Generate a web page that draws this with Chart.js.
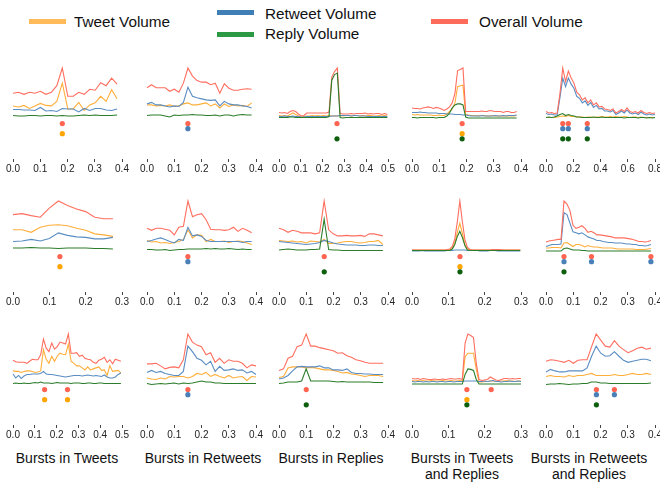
<!DOCTYPE html>
<html>
<head>
<meta charset="utf-8">
<script src="https://cdn.jsdelivr.net/npm/chart.js@4/dist/chart.umd.min.js"></script>
<style>
  body { margin: 0; background: #fff; font-family: "Liberation Sans", Arial, sans-serif; }
  #wrap { position: relative; width: 660px; height: 483px; overflow: hidden; }
  #wrap canvas { position: absolute; }
  .bar { position: absolute; height: 5px; width: 37px; }
  .lg { position: absolute; font-size: 15.3px; line-height: 16px; color: #111; white-space: nowrap; }
  .cap { position: absolute; width: 170px; font-size: 14px; line-height: 16px; text-align: center; color: #111; }
</style>
</head>
<body>
<div id="wrap">
  <div class="bar" style="left:29px;top:18.5px;background:#ffbb5a"></div>
  <div class="lg" style="left:74px;top:14px">Tweet Volume</div>
  <div class="bar" style="left:217px;top:10px;background:#3f7fb6"></div>
  <div class="lg" style="left:265px;top:6px">Retweet Volume</div>
  <div class="bar" style="left:217px;top:31.5px;background:#2c9a45"></div>
  <div class="lg" style="left:265px;top:25.5px">Reply Volume</div>
  <div class="bar" style="left:431px;top:18.5px;background:#ff6b5b"></div>
  <div class="lg" style="left:479px;top:14px">Overall Volume</div>

  <div class="cap" style="left:-18px;top:450px">Bursts in Tweets</div>
  <div class="cap" style="left:118px;top:450px">Bursts in Retweets</div>
  <div class="cap" style="left:246px;top:450px">Bursts in Replies</div>
  <div class="cap" style="left:377px;top:450px">Bursts in Tweets<br>and Replies</div>
  <div class="cap" style="left:504px;top:450px">Bursts in Retweets<br>and Replies</div>
</div>
<script>
// ---- data (volumes normalised so each panel's overall peak = 1) ----
// row 1
const tweet11 = [0.25,0.23,0.26,0.20,0.25,0.30,0.26,0.25,0.34,0.70,0.19,0.19,0.32,0.16,0.27,0.31,0.44,0.34,0.57,0.39];
const retweet11 = [0.18,0.18,0.17,0.17,0.16,0.22,0.15,0.16,0.14,0.20,0.19,0.19,0.13,0.20,0.16,0.20,0.20,0.17,0.16,0.19];
const reply11 = [0.06,0.05,0.05,0.06,0.06,0.05,0.06,0.06,0.05,0.06,0.05,0.05,0.06,0.07,0.06,0.07,0.06,0.06,0.06,0.07];
const overall11 = [0.50,0.52,0.48,0.52,0.50,0.54,0.48,0.52,0.65,1.00,0.44,0.44,0.52,0.48,0.58,0.56,0.71,0.65,0.80,0.68];

const tweet12 = [0.27,0.27,0.25,0.26,0.25,0.27,0.24,0.25,0.29,0.31,0.27,0.27,0.29,0.31,0.25,0.29,0.21,0.29,0.24,0.27,0.25,0.26,0.24,0.31];
const retweet12 = [0.29,0.32,0.27,0.27,0.25,0.23,0.25,0.24,0.32,0.62,0.44,0.41,0.39,0.37,0.36,0.37,0.25,0.34,0.29,0.27,0.27,0.25,0.24,0.21];
const reply12 = [0.06,0.07,0.07,0.07,0.05,0.03,0.07,0.06,0.07,0.07,0.08,0.07,0.07,0.06,0.06,0.07,0.05,0.07,0.07,0.05,0.07,0.08,0.07,0.07];
const overall12 = [0.61,0.67,0.61,0.61,0.61,0.54,0.58,0.52,0.70,1.00,0.84,0.75,0.72,0.72,0.67,0.70,0.50,0.69,0.60,0.56,0.56,0.58,0.59,0.58];

const tweet13 = [0.06,0.05,0.06,0.05,0.08,0.11,0.08,0.05,0.03,0.04,0.05,0.05,0.06,0.05,0.06,0.05,0.06,0.05,0.06,0.05,
  0.05,0.05,0.06,0.05,0.06,0.06,0.05,0.06,0.06,0.05,0.06,0.05,0.06,0.06,0.05,0.05,0.06,0.05,0.06,0.05];
const retweet13 = [0.04,0.04,0.05,0.04,0.04,0.05,0.04,0.04,0.03,0.03,0.04,0.04,0.04,0.04,0.04,0.04,0.04,0.04,0.04,0.05,
  0.05,0.05,0.06,0.06,0.06,0.06,0.05,0.06,0.06,0.05,0.05,0.05,0.04,0.04,0.04,0.04,0.04,0.04,0.04,0.04];
const reply13 = [0.02,0.02,0.02,0.02,0.03,0.03,0.02,0.02,0.02,0.02,0.02,0.02,0.02,0.02,0.02,0.02,0.02,0.02,0.04,0.76,
  0.87,0.90,0.02,0.01,0.02,0.02,0.02,0.02,0.02,0.02,0.02,0.02,0.02,0.02,0.02,0.02,0.02,0.02,0.02,0.02];
const overall13 = [0.12,0.11,0.12,0.10,0.14,0.16,0.14,0.09,0.05,0.06,0.11,0.11,0.11,0.11,0.11,0.11,0.11,0.11,0.13,0.82,
  0.93,1.00,0.10,0.09,0.09,0.09,0.10,0.09,0.10,0.10,0.10,0.11,0.09,0.10,0.09,0.10,0.10,0.08,0.10,0.08];

const tweet14 = [0.08,0.07,0.08,0.07,0.07,0.07,0.07,0.07,0.06,0.06,0.07,0.06,0.06,0.09,0.14,0.19,0.31,0.63,0.65,0.66,
  0.08,0.07,0.06,0.06,0.06,0.05,0.06,0.06,0.05,0.05,0.06,0.05,0.05,0.05,0.05,0.05,0.05,0.05,0.05,0.06];
const retweet14 = [0.12,0.12,0.12,0.13,0.12,0.12,0.11,0.11,0.11,0.11,0.10,0.10,0.10,0.09,0.09,0.09,0.08,0.08,0.08,0.07,
  0.07,0.06,0.05,0.05,0.05,0.05,0.06,0.05,0.05,0.05,0.05,0.06,0.05,0.05,0.06,0.05,0.06,0.06,0.06,0.07];
const reply14 = [0.02,0.02,0.01,0.02,0.02,0.02,0.02,0.02,0.02,0.01,0.02,0.02,0.02,0.05,0.11,0.21,0.27,0.29,0.29,0.27,
  0.03,0.01,0.01,0.01,0.01,0.01,0.01,0.01,0.01,0.01,0.01,0.01,0.01,0.01,0.01,0.01,0.01,0.01,0.01,0.01];
const overall14 = [0.21,0.20,0.20,0.19,0.21,0.22,0.23,0.22,0.20,0.22,0.21,0.19,0.16,0.19,0.23,0.31,0.50,0.95,0.97,1.00,
  0.14,0.14,0.14,0.14,0.14,0.14,0.15,0.14,0.14,0.16,0.15,0.14,0.14,0.14,0.12,0.14,0.14,0.12,0.12,0.14];

const tweet15 = [0.02,0.02,0.02,0.02,0.03,0.04,0.05,0.04,0.06,0.04,0.04,0.03,0.03,0.03,0.02,0.03,0.03,0.02,0.03,0.03,
  0.04,0.03,0.03,0.04,0.03,0.04,0.03,0.03,0.04,0.03,0.02,0.03,0.03,0.02,0.03,0.02,0.02,0.02,0.02,0.02];
const retweet15 = [0.10,0.08,0.09,0.07,0.07,0.42,0.80,0.63,0.80,0.68,0.60,0.44,0.40,0.31,0.35,0.26,0.32,0.22,0.26,0.19,
  0.20,0.15,0.15,0.13,0.16,0.08,0.11,0.15,0.11,0.17,0.11,0.09,0.11,0.08,0.13,0.09,0.07,0.09,0.07,0.08];
const reply15 = [0.02,0.03,0.02,0.03,0.05,0.08,0.10,0.06,0.08,0.06,0.05,0.03,0.03,0.02,0.02,0.02,0.02,0.03,0.02,0.02,
  0.03,0.02,0.02,0.02,0.02,0.02,0.02,0.02,0.01,0.02,0.02,0.02,0.02,0.01,0.02,0.02,0.01,0.02,0.01,0.02];
const overall15 = [0.14,0.11,0.12,0.10,0.11,0.50,1.00,0.73,0.94,0.80,0.70,0.52,0.47,0.37,0.41,0.31,0.37,0.27,0.31,0.23,
  0.24,0.19,0.18,0.16,0.19,0.11,0.14,0.18,0.14,0.21,0.14,0.12,0.14,0.11,0.16,0.12,0.10,0.12,0.10,0.11];

// row 2
const tweet21 = [0.43,0.43,0.38,0.48,0.52,0.53,0.51,0.46,0.42,0.35,0.33,0.30];
const retweet21 = [0.20,0.21,0.24,0.21,0.26,0.37,0.32,0.29,0.28,0.25,0.25,0.28];
const reply21 = [0.07,0.07,0.08,0.07,0.07,0.06,0.07,0.07,0.07,0.06,0.06,0.05];
const overall21 = [0.73,0.75,0.71,0.68,0.86,1.00,0.91,0.84,0.79,0.68,0.65,0.65];

const tweet22 = [0.22,0.19,0.20,0.17,0.18,0.16,0.18,0.20,0.24,0.43,0.27,0.33,0.32,0.20,0.24,0.20,0.20,0.21,0.18,0.20,0.21,0.20,0.17,0.14];
const retweet22 = [0.20,0.22,0.25,0.27,0.24,0.20,0.17,0.24,0.22,0.48,0.31,0.33,0.30,0.22,0.20,0.20,0.20,0.20,0.20,0.20,0.20,0.18,0.20,0.20];
const reply22 = [0.04,0.04,0.03,0.03,0.04,0.02,0.03,0.04,0.04,0.05,0.05,0.05,0.05,0.06,0.05,0.06,0.05,0.05,0.06,0.05,0.04,0.05,0.04,0.04];
const overall22 = [0.46,0.42,0.46,0.46,0.44,0.42,0.33,0.48,0.50,1.00,0.69,0.73,0.75,0.63,0.44,0.43,0.43,0.42,0.43,0.48,0.40,0.46,0.42,0.37];

const tweet23 = [0.22,0.21,0.20,0.21,0.19,0.20,0.17,0.21,0.20,0.19,0.24,0.16,0.16,0.17,0.19,0.20,0.20,0.18,0.17,0.18,0.20,0.20,0.22,0.14];
const retweet23 = [0.20,0.19,0.18,0.17,0.16,0.15,0.14,0.15,0.16,0.18,0.22,0.20,0.17,0.15,0.14,0.13,0.13,0.13,0.12,0.12,0.13,0.13,0.12,0.12];
const reply23 = [0.03,0.04,0.05,0.04,0.03,0.03,0.03,0.04,0.04,0.05,0.64,0.04,0.03,0.03,0.02,0.02,0.02,0.02,0.02,0.02,0.02,0.02,0.02,0.02];
const overall23 = [0.46,0.43,0.38,0.42,0.40,0.37,0.37,0.37,0.35,0.37,1.00,0.43,0.35,0.31,0.31,0.32,0.31,0.31,0.32,0.30,0.35,0.35,0.33,0.31];

const tweet24 = [0.03,0.03,0.03,0.03,0.03,0.03,0.03,0.03,0.03,0.03,0.03,0.03,0.03,0.03,0.03,0.04,0.06,0.16,0.38,0.56,0.36,0.14,
  0.05,0.03,0.03,0.03,0.03,0.03,0.03,0.03,0.03,0.03,0.04,0.04,0.03,0.03,0.03,0.03,0.03,0.03,0.03,0.03,0.03,0.03];
const retweet24 = [0.01,0.01,0.01,0.01,0.02,0.01,0.01,0.01,0.01,0.01,0.01,0.01,0.01,0.01,0.02,0.02,0.02,0.03,0.03,0.03,0.03,0.03,
  0.02,0.02,0.02,0.02,0.02,0.01,0.01,0.01,0.01,0.02,0.02,0.02,0.01,0.01,0.01,0.01,0.01,0.01,0.01,0.01,0.01,0.01];
const reply24 = [0.02,0.02,0.02,0.02,0.02,0.02,0.02,0.02,0.02,0.02,0.02,0.02,0.02,0.02,0.02,0.02,0.05,0.14,0.30,0.40,0.28,0.12,
  0.03,0.02,0.02,0.02,0.02,0.02,0.02,0.02,0.02,0.02,0.02,0.02,0.02,0.02,0.02,0.02,0.02,0.02,0.02,0.02,0.02,0.02];
const overall24 = [0.03,0.03,0.03,0.03,0.03,0.03,0.03,0.03,0.03,0.03,0.03,0.03,0.03,0.03,0.04,0.05,0.10,0.25,0.59,1.00,0.59,0.24,
  0.08,0.04,0.03,0.03,0.03,0.03,0.03,0.03,0.03,0.03,0.04,0.04,0.04,0.04,0.03,0.03,0.03,0.03,0.03,0.03,0.03,0.03];

const tweet25 = [0.07,0.07,0.08,0.08,0.08,0.07,0.17,0.18,0.14,0.10,0.14,0.14,0.12,0.09,0.12,0.10,0.09,0.09,
  0.08,0.07,0.07,0.07,0.07,0.06,0.05,0.05,0.05,0.05,0.05,0.05,0.04,0.04,0.04,0.04,0.05,0.06];
const retweet25 = [0.10,0.12,0.14,0.14,0.14,0.15,0.77,0.73,0.56,0.39,0.37,0.35,0.37,0.33,0.29,0.27,0.25,0.22,
  0.22,0.20,0.19,0.18,0.18,0.17,0.17,0.17,0.16,0.15,0.15,0.14,0.14,0.12,0.12,0.11,0.12,0.14];
const reply25 = [0.01,0.01,0.01,0.01,0.01,0.01,0.06,0.07,0.05,0.03,0.03,0.03,0.02,0.02,0.01,0.01,0.01,0.01,
  0.01,0.01,0.01,0.01,0.01,0.01,0.01,0.01,0.01,0.01,0.01,0.01,0.01,0.01,0.01,0.01,0.01,0.01];
const overall25 = [0.19,0.21,0.22,0.23,0.24,0.24,1.00,0.94,0.81,0.52,0.46,0.48,0.51,0.46,0.38,0.40,0.37,0.33,
  0.33,0.32,0.31,0.30,0.29,0.27,0.27,0.27,0.27,0.26,0.25,0.24,0.22,0.20,0.20,0.19,0.20,0.22];

// row 3
const tweet31 = [0.27,0.26,0.26,0.24,0.26,0.27,0.27,0.26,0.24,0.25,0.27,0.69,0.50,0.42,0.56,0.46,0.56,0.62,0.60,0.59,
  0.80,0.46,0.42,0.37,0.37,0.33,0.29,0.35,0.29,0.31,0.33,0.35,0.28,0.29,0.18,0.37,0.26,0.27,0.28,0.23];
const retweet31 = [0.21,0.13,0.18,0.12,0.17,0.20,0.20,0.21,0.21,0.21,0.22,0.26,0.21,0.20,0.20,0.19,0.18,0.17,0.16,0.15,
  0.16,0.17,0.18,0.18,0.18,0.17,0.18,0.19,0.18,0.17,0.18,0.17,0.16,0.19,0.15,0.13,0.13,0.15,0.20,0.23];
const reply31 = [0.02,0.03,0.02,0.02,0.03,0.02,0.02,0.03,0.04,0.03,0.05,0.03,0.03,0.03,0.02,0.03,0.04,0.03,0.03,0.03,
  0.03,0.02,0.03,0.03,0.03,0.02,0.02,0.03,0.03,0.02,0.02,0.03,0.03,0.02,0.02,0.02,0.02,0.02,0.02,0.02];
const overall31 = [0.48,0.45,0.44,0.44,0.44,0.42,0.46,0.50,0.49,0.49,0.59,0.90,0.72,0.65,0.82,0.70,0.75,0.84,0.82,0.80,
  1.00,0.62,0.62,0.63,0.56,0.58,0.52,0.50,0.49,0.44,0.42,0.48,0.50,0.54,0.44,0.49,0.41,0.50,0.48,0.46];

const tweet32 = [0.13,0.11,0.10,0.13,0.11,0.16,0.15,0.16,0.16,0.13,0.16,0.22,0.20,0.24,0.16,0.20,0.16,0.13,0.18,0.13,0.15,0.16,0.08,0.16,0.15];
const retweet32 = [0.24,0.28,0.24,0.26,0.22,0.20,0.18,0.18,0.26,0.76,0.65,0.52,0.48,0.39,0.46,0.26,0.36,0.28,0.29,0.31,0.28,0.29,0.23,0.26,0.20];
const reply32 = [0.02,0.00,0.01,0.02,0.01,0.02,0.03,0.01,0.03,0.02,0.03,0.05,0.07,0.05,0.05,0.03,0.03,0.02,0.02,0.02,0.02,0.02,0.02,0.02,0.02];
const overall32 = [0.41,0.41,0.42,0.37,0.31,0.34,0.35,0.33,0.49,1.00,0.84,0.78,0.75,0.59,0.63,0.44,0.52,0.42,0.49,0.46,0.46,0.42,0.33,0.39,0.37];

const tweet33 = [0.14,0.16,0.33,0.35,0.35,0.35,0.33,0.34,0.33,0.31,0.29,0.29,0.28,0.26,0.23,0.24,0.21,0.20,0.18,0.16,0.18,0.18,0.18,0.16];
const retweet33 = [0.11,0.13,0.18,0.27,0.35,0.36,0.35,0.35,0.35,0.37,0.33,0.33,0.29,0.29,0.28,0.31,0.24,0.22,0.22,0.21,0.21,0.20,0.20,0.20];
const reply33 = [0.02,0.03,0.05,0.05,0.05,0.07,0.31,0.07,0.07,0.07,0.07,0.07,0.06,0.05,0.06,0.05,0.05,0.05,0.05,0.05,0.05,0.04,0.04,0.04];
const overall33 = [0.28,0.31,0.52,0.56,0.75,0.78,1.00,0.76,0.76,0.73,0.71,0.69,0.67,0.62,0.63,0.57,0.54,0.49,0.47,0.44,0.42,0.42,0.42,0.42];

const tweet34 = [0.08,0.07,0.08,0.07,0.08,0.07,0.07,0.08,0.07,0.07,0.07,0.08,0.07,0.07,0.08,0.07,0.07,0.08,0.07,0.55,
  0.62,0.62,0.62,0.30,0.05,0.05,0.06,0.06,0.07,0.07,0.06,0.06,0.07,0.07,0.08,0.07,0.07,0.06,0.07,0.07];
const retweet34 = [0.06,0.05,0.06,0.06,0.05,0.06,0.05,0.06,0.06,0.05,0.06,0.06,0.05,0.06,0.06,0.05,0.06,0.06,0.06,0.07,
  0.07,0.07,0.07,0.07,0.06,0.06,0.07,0.06,0.07,0.08,0.06,0.06,0.05,0.06,0.06,0.07,0.06,0.06,0.07,0.06];
const reply34 = [0.01,0.01,0.01,0.01,0.01,0.01,0.01,0.01,0.01,0.01,0.01,0.01,0.01,0.01,0.01,0.01,0.01,0.01,0.01,0.20,
  0.31,0.30,0.28,0.10,0.01,0.01,0.01,0.01,0.01,0.01,0.01,0.01,0.01,0.01,0.01,0.01,0.01,0.01,0.01,0.01];
const overall34 = [0.12,0.11,0.12,0.10,0.12,0.11,0.10,0.10,0.11,0.10,0.10,0.11,0.10,0.11,0.12,0.11,0.11,0.12,0.10,0.82,
  1.00,0.97,0.93,0.42,0.10,0.08,0.09,0.10,0.15,0.12,0.09,0.08,0.10,0.12,0.12,0.11,0.12,0.11,0.12,0.12];

const tweet35 = [0.16,0.18,0.16,0.16,0.15,0.18,0.16,0.18,0.18,0.20,0.22,0.18,0.18,0.18,0.18,0.20,0.18,0.18,0.20,0.22,0.20,0.20,0.22,0.20];
const retweet35 = [0.25,0.30,0.27,0.25,0.25,0.27,0.27,0.27,0.27,0.33,0.56,0.76,0.62,0.56,0.57,0.65,0.56,0.48,0.44,0.46,0.48,0.50,0.50,0.47];
const reply35 = [0.00,0.01,0.01,0.02,0.01,0.00,0.01,0.01,0.02,0.02,0.05,0.05,0.03,0.03,0.02,0.02,0.02,0.02,0.02,0.02,0.02,0.02,0.02,0.03];
const overall35 = [0.46,0.49,0.48,0.46,0.44,0.48,0.42,0.48,0.49,0.49,0.75,1.00,0.88,0.76,0.74,0.87,0.76,0.69,0.63,0.67,0.72,0.74,0.70,0.72];

// time span covered by each panel's series, and axis end / tick step
const spanEnd = [[0.382, 0.384, 0.497, 0.384, 0.800],
                 [0.275, 0.384, 0.381, 0.298, 0.385],
                 [0.495, 0.400, 0.382, 0.300, 0.385]];
const axisMax = [[0.4, 0.4, 0.5, 0.4, 0.8],
                 [0.3, 0.4, 0.4, 0.3, 0.4],
                 [0.5, 0.4, 0.4, 0.3, 0.4]];
const tickStep = [[0.1, 0.1, 0.1, 0.1, 0.2],
                  [0.1, 0.1, 0.1, 0.1, 0.1],
                  [0.1, 0.1, 0.1, 0.1, 0.1]];

// detected bursts: [series, time]
const bursts11 = [['overall', 0.181], ['tweet', 0.181]];
const bursts12 = [['overall', 0.150], ['retweet', 0.150]];
const bursts13 = [['overall', 0.266], ['reply', 0.266]];
const bursts14 = [['overall', 0.184], ['tweet', 0.184], ['reply', 0.184]];
const bursts15 = [['overall', 0.123], ['retweet', 0.123], ['reply', 0.123],
                  ['overall', 0.164], ['retweet', 0.164], ['reply', 0.164],
                  ['overall', 0.303], ['retweet', 0.303], ['reply', 0.303]];
const bursts21 = [['overall', 0.129], ['tweet', 0.129]];
const bursts22 = [['overall', 0.150], ['retweet', 0.150]];
const bursts23 = [['overall', 0.166], ['reply', 0.166]];
const bursts24 = [['overall', 0.132], ['tweet', 0.132], ['reply', 0.132]];
const bursts25 = [['overall', 0.066], ['retweet', 0.066], ['reply', 0.066],
                  ['overall', 0.167], ['retweet', 0.167],
                  ['overall', 0.385], ['retweet', 0.385]];
const bursts31 = [['overall', 0.145], ['tweet', 0.145], ['overall', 0.250], ['tweet', 0.250]];
const bursts32 = [['overall', 0.150], ['retweet', 0.150]];
const bursts33 = [['overall', 0.100], ['reply', 0.100]];
const bursts34 = [['overall', 0.151], ['tweet', 0.151], ['reply', 0.151], ['overall', 0.218]];
const bursts35 = [['overall', 0.185], ['retweet', 0.185], ['reply', 0.185],
                  ['overall', 0.251], ['retweet', 0.251]];

// ---- styling / layout ----
const lineColor = { tweet: '#ffae3a', retweet: '#5a8dc2', reply: '#2b7d2b', overall: '#ff6e5e' };
const dotColor = { tweet: '#ffa500', retweet: '#4a80b8', reply: '#0d5f0d', overall: '#ff6450' };
const dotLevel = { overall: -0.1, retweet: -0.2, tweet: -0.3, reply: -0.4 };
const colLeft = [13.3, 146.7, 279.3, 411.7, 545.7];
const rowTop = [68, 201, 334];
const AREA_W = 109, AREA_H = 91, PAD_X = 14, PAD_TOP = 6, AXIS_H = 18;

const panels = [
  [[tweet11, retweet11, reply11, overall11, bursts11], [tweet12, retweet12, reply12, overall12, bursts12],
   [tweet13, retweet13, reply13, overall13, bursts13], [tweet14, retweet14, reply14, overall14, bursts14],
   [tweet15, retweet15, reply15, overall15, bursts15]],
  [[tweet21, retweet21, reply21, overall21, bursts21], [tweet22, retweet22, reply22, overall22, bursts22],
   [tweet23, retweet23, reply23, overall23, bursts23], [tweet24, retweet24, reply24, overall24, bursts24],
   [tweet25, retweet25, reply25, overall25, bursts25]],
  [[tweet31, retweet31, reply31, overall31, bursts31], [tweet32, retweet32, reply32, overall32, bursts32],
   [tweet33, retweet33, reply33, overall33, bursts33], [tweet34, retweet34, reply34, overall34, bursts34],
   [tweet35, retweet35, reply35, overall35, bursts35]]
];

const wrap = document.getElementById('wrap');
const FONT = '"Liberation Sans", Arial, sans-serif';

function series(vals, end) {
  const n = vals.length;
  return vals.map((v, i) => ({ x: i * end / (n - 1), y: v }));
}

panels.forEach((row, r) => {
  row.forEach((p, c) => {
    const [tw, rt, rp, ov, bs] = p;
    const end = spanEnd[r][c];
    const cv = document.createElement('canvas');
    cv.width = AREA_W + 2 * PAD_X;
    cv.height = PAD_TOP + AREA_H + AXIS_H;
    cv.style.left = (colLeft[c] - PAD_X) + 'px';
    cv.style.top = (rowTop[r] - PAD_TOP) + 'px';
    wrap.appendChild(cv);

    const line = (key, vals) => ({
      data: series(vals, end), borderColor: lineColor[key], borderWidth: 1.1,
      pointRadius: 0, tension: 0, fill: false, clip: 3
    });
    const dots = {
      data: bs.map(b => ({ x: b[1], y: dotLevel[b[0]] })),
      showLine: false, pointRadius: 2.6, pointBorderWidth: 0,
      pointBackgroundColor: bs.map(b => dotColor[b[0]])
    };

    new Chart(cv, {
      type: 'line',
      data: { datasets: [dots, line('reply', rp), line('overall', ov), line('retweet', rt), line('tweet', tw)] },
      options: {
        responsive: false, animation: false, devicePixelRatio: 1,
        layout: { padding: { left: PAD_X, right: PAD_X, top: PAD_TOP, bottom: 0 } },
        plugins: { legend: { display: false }, tooltip: { enabled: false } },
        scales: {
          x: {
            type: 'linear', min: 0, max: axisMax[r][c],
            afterFit(s) { s.height = AXIS_H; s.paddingLeft = 0; s.paddingRight = 0; },
            border: { display: false },
            grid: { drawOnChartArea: false, drawTicks: true, tickLength: 3, color: '#444' },
            ticks: {
              stepSize: tickStep[r][c], autoSkip: false, maxRotation: 0, padding: 1,
              color: '#222', font: { size: 10, family: FONT },
              callback: v => Number(v).toFixed(1)
            }
          },
          y: { display: false, min: -0.8, max: 1.0 }
        }
      }
    });
  });
});
</script>
</body>
</html>
